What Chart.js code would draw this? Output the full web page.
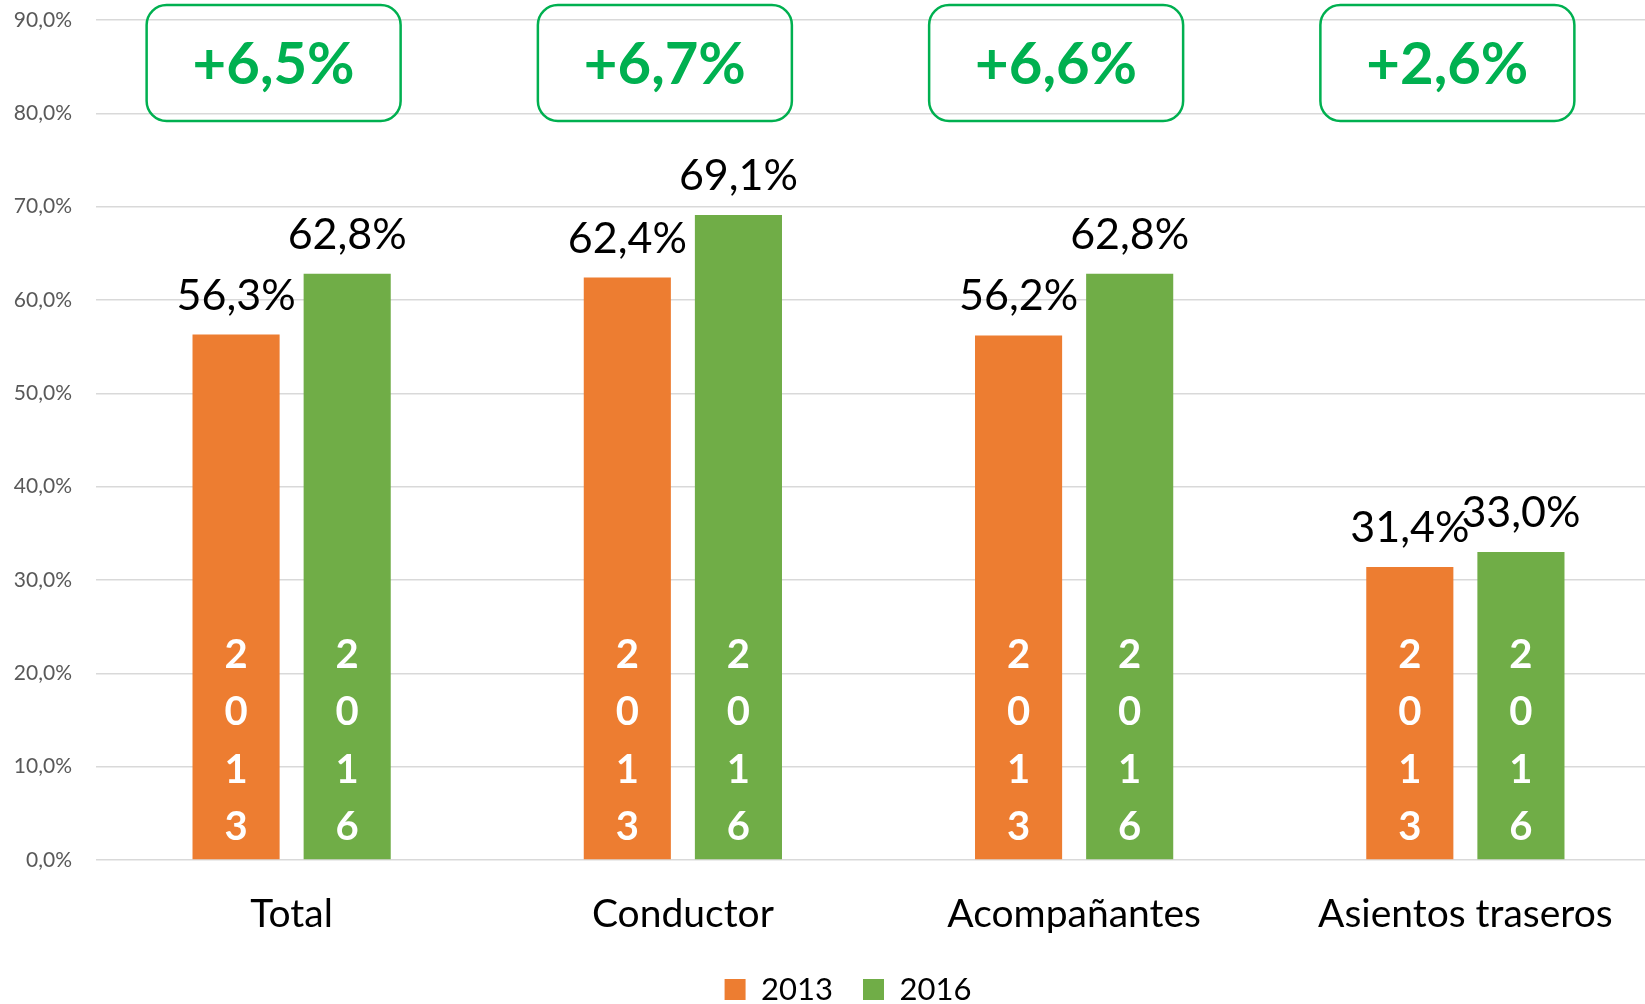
<!DOCTYPE html>
<html lang="es">
<head>
<meta charset="utf-8">
<title>Uso de cinturón 2013 - 2016</title>
<script src="https://cdn.jsdelivr.net/npm/chart.js@4.4.1/dist/chart.umd.min.js"></script>
<style>
    html, body { margin: 0; padding: 0; background: #fff; overflow: hidden; }
    #contenedor { width: 1661px; height: 1004px; position: relative; }
</style>
</head>
<body>
<div id="contenedor"><canvas id="cinturonChart"></canvas></div>
<script>
// ===============================
// DATOS
// ===============================
const categorias = ["Total", "Conductor", "Acompañantes", "Asientos traseros"];
const valores2013 = [56.3, 62.4, 56.2, 31.4];
const valores2016 = [62.8, 69.1, 62.8, 33.0];
const diferencias = ["+6,5%", "+6,7%", "+6,6%", "+2,6%"];
const anios = ["2013", "2016"];

const NARANJA = "#ED7D31";
const VERDE = "#70AD47";
const VERDE_CAJA = "#00B050";

function formatoPct(v) {
    return v.toFixed(1).replace(".", ",") + "%";
}

// ===============================
// ETIQUETAS SOBRE Y DENTRO DE BARRAS
// ===============================
const etiquetasBarras = {
    id: "etiquetasBarras",
    afterDatasetsDraw(chart) {
        const ctx = chart.ctx;
        ctx.save();
        chart.data.datasets.forEach((ds, i) => {
            const meta = chart.getDatasetMeta(i);
            meta.data.forEach((bar, j) => {
                // valor arriba
                ctx.fillStyle = "#000";
                ctx.font = "43px Lato";
                ctx.textAlign = "center";
                ctx.textBaseline = "alphabetic";
                ctx.fillText(formatoPct(ds.data[j]), bar.x, bar.y - 25);

                // año en vertical, dentro de la barra
                const letras = ds.label.split("");
                ctx.fillStyle = "#fff";
                ctx.font = "bold 40px Lato";
                ctx.textBaseline = "middle";
                letras.forEach((c, k) => {
                    const y = bar.base - 32 - (letras.length - 1 - k) * 57.5;
                    ctx.fillText(c, bar.x, y);
                });
            });
        });
        ctx.restore();
    }
};

// ===============================
// CAJAS DE DIFERENCIA (arriba)
// ===============================
const cajasDiferencia = {
    id: "cajasDiferencia",
    beforeDraw(chart) {
        // la leyenda va un poco mas a la derecha y abajo
        chart.legend.left = 35;
        chart.legend.top += 11;
    },
    afterDraw(chart) {
        const ctx = chart.ctx;
        const x = chart.scales.x;
        ctx.save();
        diferencias.forEach((txt, i) => {
            const cx = x.getPixelForValue(i) - 18;
            const w = 254, h = 116, top = 5;
            ctx.beginPath();
            ctx.roundRect(cx - w / 2, top, w, h, 20);
            ctx.lineWidth = 2.5;
            ctx.strokeStyle = VERDE_CAJA;
            ctx.stroke();

            ctx.fillStyle = VERDE_CAJA;
            ctx.font = "bold 58px Lato";
            ctx.textAlign = "center";
            ctx.textBaseline = "alphabetic";
            ctx.fillText(txt, cx, top + 79);
        });
        ctx.restore();
    }
};

// ===============================
// GRÁFICO
// ===============================
new Chart(document.getElementById("cinturonChart"), {
    type: "bar",
    data: {
        labels: categorias,
        datasets: [
            { label: anios[0], data: valores2013, backgroundColor: NARANJA },
            { label: anios[1], data: valores2016, backgroundColor: VERDE }
        ]
    },
    options: {
        responsive: true,
        maintainAspectRatio: false,
        animation: false,
        categoryPercentage: 0.568,
        barPercentage: 0.784,
        layout: { padding: { left: 0, right: 0, top: 20, bottom: 0 } },
        plugins: {
            tooltip: { enabled: false },
            legend: {
                position: "bottom",
                labels: {
                    color: "#000",
                    font: { family: "Lato", size: 31 },
                    boxWidth: 21,
                    boxHeight: 21,
                    padding: 30
                }
            }
        },
        scales: {
            x: {
                grid: { display: false },
                border: { display: false },
                ticks: {
                    color: "#000",
                    font: { family: "Lato", size: 39 },
                    padding: 23
                },
                afterFit(scale) { scale.height = 73; }
            },
            y: {
                min: 0,
                max: 90,
                border: { display: false },
                grid: { color: "#D9D9D9", lineWidth: 1.5, drawTicks: false },
                ticks: {
                    stepSize: 10,
                    color: "#595959",
                    font: { family: "Lato", size: 21 },
                    padding: 24,
                    callback: v => formatoPct(v)
                },
                afterFit(scale) {
                    scale.width = 96;
                    scale.paddingTop = 0;
                    scale.paddingBottom = 0;
                }
            }
        }
    },
    plugins: [etiquetasBarras, cajasDiferencia]
});
</script>
</body>
</html>
